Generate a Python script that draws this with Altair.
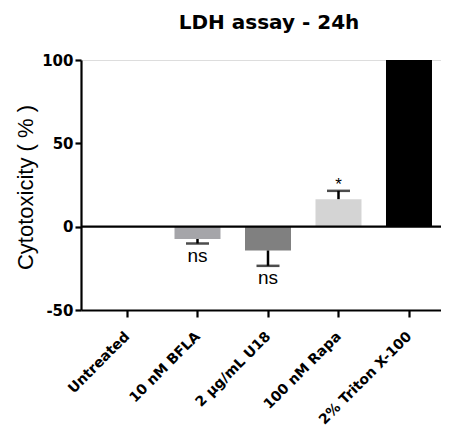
import altair as alt
import pandas as pd
import json

categories = ["Untreated", "10 nM BFLA", "2 \u03bcg/mL U18", "100 nM Rapa", "2% Triton X-100"]
values = [0, -7.4, -14.3, 16.5, 100]
error_ends = [0, -10.1, -23.5, 21.5, 100]
sig_labels = ["", "ns", "ns", "*", ""]
colors = ["#ffffff", "#a5a5a9", "#808080", "#d4d4d4", "#000000"]

df = pd.DataFrame({
    "idx": list(range(len(categories))),
    "cat": categories,
    "val": values,
    "err": error_ends,
    "lab": sig_labels,
    "col": colors,
})
df["has_err"] = df["err"] != df["val"]
df["neg"] = df["val"] < 0

W = 360
xscale = alt.Scale(domain=[-0.6525, 4.454], nice=False, zero=False, padding=0)
yscale = alt.Scale(domain=[-50, 100], nice=False, zero=False, padding=0)
xs = alt.X("idx:Q", title=None, scale=xscale,
           axis=alt.Axis(values=list(range(len(categories))), grid=False,
                         labelExpr=json.dumps(categories) + "[datum.value]",
                         labelAngle=-45, labelAlign="right", labelBaseline="middle",
                         labelFont="DejaVu Sans", labelFontWeight="bold", labelFontSize=14,
                         labelColor="black", labelPadding=17, labelFlush=False,
                         labelOverlap=False,
                         domainColor="black", domainWidth=2.2, tickColor="black",
                         tickWidth=2.2, tickSize=7, labelLimit=300))
ys = alt.Y("val:Q", title="Cytotoxicity ( % )", scale=yscale,
           axis=alt.Axis(values=[-50, 0, 50, 100], grid=False,
                         labelExpr="'' + datum.value",
                         labelFont="DejaVu Sans", labelFontWeight="bold", labelFontSize=15,
                         labelColor="black", labelPadding=2,
                         domainColor="black", domainWidth=2.2, tickColor="black",
                         tickWidth=2.2, tickSize=6,
                         titleFont="Liberation Sans", titleFontWeight="normal", titleFontSize=22,
                         titleColor="black", titleX=-56, titleY=127, titleAngle=270,
                         titleAlign="center", titleBaseline="middle"))

base = alt.Chart(df)
xc = alt.X("idx:Q", scale=xscale)
yc = alt.Y("err:Q", scale=yscale)

bars = base.mark_bar(size=46).encode(
    x=xs, y=ys, y2=alt.datum(0),
    color=alt.Color("col:N", scale=None),
)

err_df = base.transform_filter("datum.has_err")

stems = err_df.mark_rule(strokeWidth=2.5, color="black").encode(
    x=xc, y=alt.Y("val:Q", scale=yscale), y2="err:Q")
caps = err_df.mark_tick(orient="horizontal", size=23, thickness=2.5, color="black").encode(
    x=xc, y=yc)

neg_text = base.transform_filter("datum.neg").mark_text(
    font="Liberation Sans", fontSize=19, baseline="top", dy=3, color="black").encode(
    x=xc, y=yc, text="lab:N")
pos_text = base.transform_filter("!datum.neg && datum.lab != ''").mark_text(
    font="Liberation Sans", fontSize=17, baseline="alphabetic", dy=-1, color="black").encode(
    x=xc, y=yc, text="lab:N")

zero = alt.Chart(pd.DataFrame({"z": [0]})).mark_rule(strokeWidth=2.2, color="black").encode(
    y=alt.Y("z:Q", scale=yscale), x=alt.value(0), x2=alt.value(W))

chart = alt.layer(bars, zero, stems, caps, neg_text, pos_text).properties(
    width=W, height=250,
    title=alt.TitleParams("LDH assay - 24h", font="DejaVu Sans", fontWeight="bold",
                          fontSize=20, color="black", offset=26, anchor="middle",
                          dx=8, dy=6),
    autosize=alt.AutoSizeParams(type="none"),
    padding={"left": 73, "top": 52, "right": 0, "bottom": 116},
).configure_view(stroke="transparent", strokeWidth=0, strokeOpacity=0).configure(background="white")

chart.save("out.html", embed_options={"renderer": "svg", "actions": False})
